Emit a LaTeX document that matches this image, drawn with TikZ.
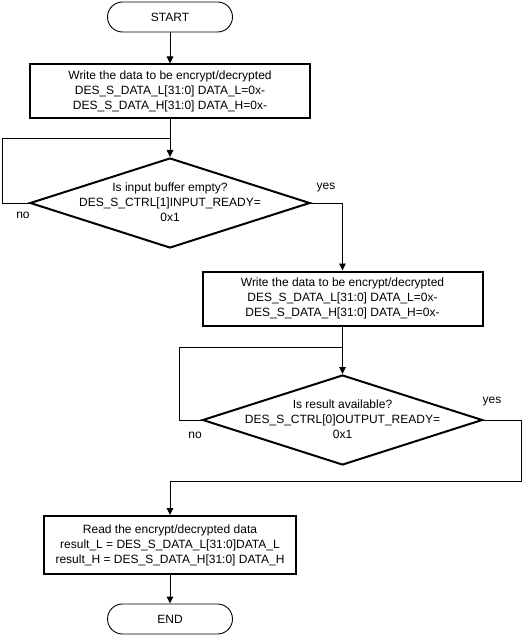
\documentclass[tikz,border=0pt]{standalone}
\usepackage{fontspec}
\setmainfont{Liberation Sans}
\usetikzlibrary{shapes.geometric,arrows.meta}
\begin{document}
\begin{tikzpicture}[x=1pt,y=-1pt,
  every node/.style={font=\fontsize{12}{15}\selectfont},
  term/.style={draw,line width=0.9pt,rounded corners=15pt,minimum width=125pt,minimum height=30pt,inner sep=0pt},
  proc/.style={draw,line width=2pt,minimum width=280pt,minimum height=54pt,align=center,inner sep=0pt},
  dec/.style={draw,diamond,line width=2pt,minimum width=280pt,minimum height=90pt,inner sep=0pt},
  dtext/.style={align=center,inner sep=0pt},
  conn/.style={line width=0.9pt},
  arr/.style={conn,-{Triangle[length=7pt,width=6.5pt]}},
  lbl/.style={inner sep=0pt}
]
\useasboundingbox (0,0) rectangle (523,636);
\node[term] (start) at (170,17) {START};
\node[proc] (b1) at (170,91.5) {Write the data to be encrypt/decrypted\\DES\_S\_DATA\_L[31:0] DATA\_L=0x-\\DES\_S\_DATA\_H[31:0] DATA\_H=0x-};
\node[dec] (d1) at (170,203) {};
\node[dtext] (d1t) at (170,202) {Is input buffer empty?\\DES\_S\_CTRL[1]INPUT\_READY=\\0x1};
\node[proc] (b2) at (342.5,298.5) {Write the data to be encrypt/decrypted\\DES\_S\_DATA\_L[31:0] DATA\_L=0x-\\DES\_S\_DATA\_H[31:0] DATA\_H=0x-};
\node[dec] (d2) at (342.5,420) {};
\node[dtext] (d2t) at (342.5,419) {Is result available?\\DES\_S\_CTRL[0]OUTPUT\_READY=\\0x1};
\node[proc,minimum width=252pt,minimum height=58pt] (b3) at (170,545) {Read the encrypt/decrypted data\\result\_L = DES\_S\_DATA\_L[31:0]DATA\_L\\result\_H = DES\_S\_DATA\_H[31:0] DATA\_H};
\node[term] (end) at (170,619) {END};
\coordinate (j1) at (170,138);
\coordinate (l1a) at (2,203);
\coordinate (l1b) at (2,138);
\coordinate (j2) at (342.5,347);
\coordinate (l2a) at (179,420);
\coordinate (l2b) at (179,347);
\coordinate (r2a) at (521,420);
\coordinate (r2b) at (521,481);
\draw[arr] (start) -- (b1);
\draw[arr] (b1.south) -- (d1.north);
\draw[conn] (d1.west) -- (l1a) -- (l1b) -- (j1);
\draw[arr] (d1.east) -| (b2.north);
\draw[arr] (b2.south) -- (d2.north);
\draw[conn] (d2.west) -- (l2a) -- (l2b) -- (j2);
\draw[arr] (d2.east) -- (r2a) -- (r2b) -| (b3.north);
\draw[arr] (b3) -- (end);
\node[lbl] (yes1) at (326,188) {yes};
\node[lbl] (no1) at (23,215) {no};
\node[lbl] (yes2) at (492,402) {yes};
\node[lbl] (no2) at (195,435) {no};
\end{tikzpicture}
\end{document}
